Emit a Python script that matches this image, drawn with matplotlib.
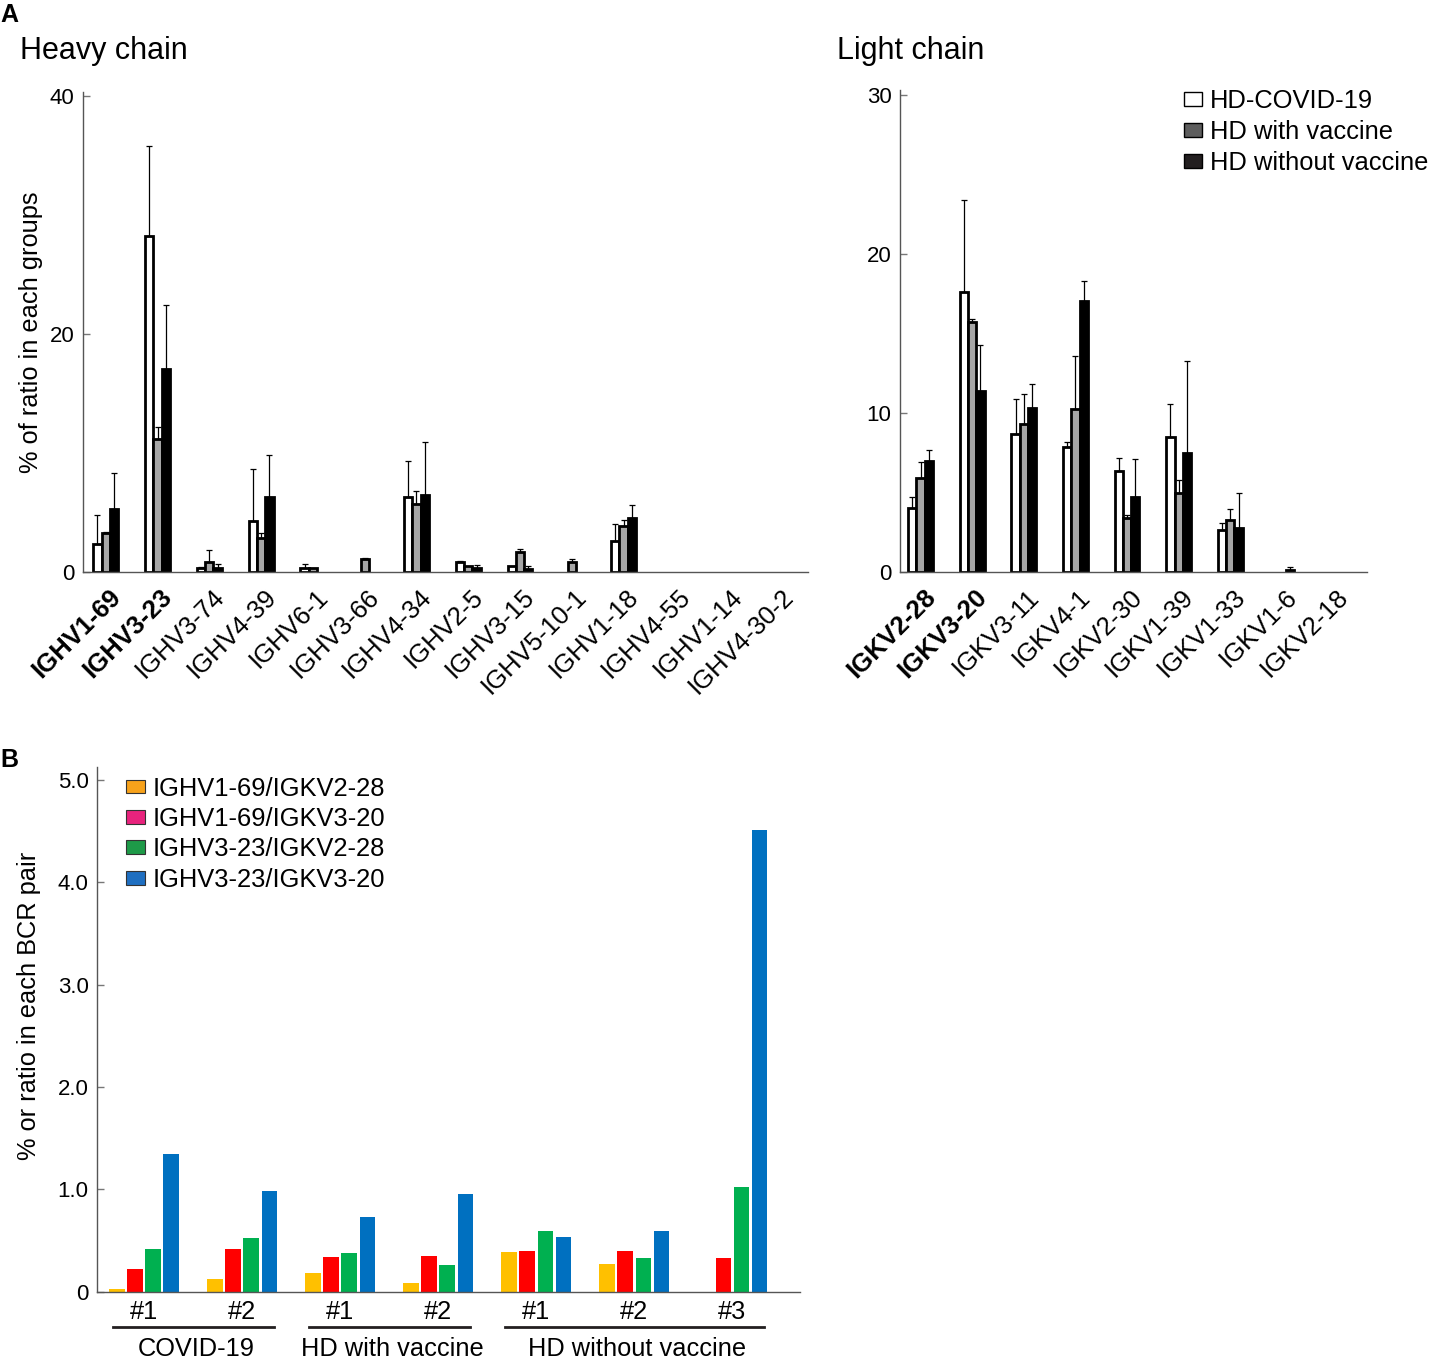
import numpy as np
import matplotlib
matplotlib.use("Agg")
import matplotlib.pyplot as plt
import matplotlib.patches as patches
from matplotlib import transforms

plt.rcParams['font.family'] = ['Liberation Sans', 'DejaVu Sans']

# --- Panel A: heavy chain usage (% of ratio in each group) ---
heavy_genes = ['IGHV1-69', 'IGHV3-23', 'IGHV3-74', 'IGHV4-39', 'IGHV6-1', 'IGHV3-66', 'IGHV4-34',
               'IGHV2-5', 'IGHV3-15', 'IGHV5-10-1', 'IGHV1-18', 'IGHV4-55', 'IGHV1-14', 'IGHV4-30-2']
heavy_covid = [2.35, 28.2, 0.35, 4.3, 0.35, 0, 6.3, 0.87, 0.53, 0, 2.65, 0, 0, 0]
heavy_covid_sd = [2.45, 7.6, 0.1, 4.4, 0.3, 0, 3.0, 0.08, 0, 0, 1.35, 0, 0, 0]
heavy_vacc = [3.3, 11.2, 0.85, 2.9, 0.3, 1.1, 5.7, 0.5, 1.7, 0.87, 3.85, 0, 0, 0]
heavy_vacc_sd = [0.05, 1.0, 1.0, 0.35, 0, 0.05, 1.1, 0, 0.2, 0.2, 0.55, 0, 0, 0]
heavy_novacc = [5.3, 17.05, 0.35, 6.3, 0, 0, 6.5, 0.3, 0.25, 0, 4.5, 0, 0, 0]
heavy_novacc_sd = [3.0, 5.35, 0.3, 3.5, 0.2, 0, 4.4, 0.3, 0.25, 0, 1.15, 0, 0, 0]

# --- Panel A: light chain usage ---
light_genes = ['IGKV2-28', 'IGKV3-20', 'IGKV3-11', 'IGKV4-1', 'IGKV2-30', 'IGKV1-39', 'IGKV1-33',
               'IGKV1-6', 'IGKV2-18']
light_covid = [4.04, 17.6, 8.7, 7.85, 6.35, 8.5, 2.67, 0, 0]
light_covid_sd = [0.7, 5.8, 2.2, 0.35, 0.8, 2.1, 0.43, 0, 0]
light_vacc = [5.9, 15.7, 9.3, 10.25, 3.43, 5.0, 3.26, 0, 0]
light_vacc_sd = [1.0, 0.2, 1.9, 3.35, 0.17, 0.8, 0.7, 0, 0]
light_novacc = [7.0, 11.4, 10.3, 17.05, 4.7, 7.5, 2.76, 0.1, 0]
light_novacc_sd = [0.7, 2.9, 1.5, 1.25, 2.4, 5.8, 2.24, 0.2, 0]

bold_genes = ['IGHV1-69', 'IGHV3-23', 'IGKV2-28', 'IGKV3-20']
group_labels = ['HD-COVID-19', 'HD with vaccine', 'HD without vaccine']

# --- Panel B: BCR pair ratios per donor ---
pair_labels = ['IGHV1-69/IGKV2-28', 'IGHV1-69/IGKV3-20', 'IGHV3-23/IGKV2-28', 'IGHV3-23/IGKV3-20']
donor_ticks = ['#1', '#2', '#1', '#2', '#1', '#2', '#3']
donor_groups = [('COVID-19', 0, 1), ('HD with vaccine', 2, 3), ('HD without vaccine', 4, 6)]
pair_v169_k228 = [0.026, 0.124, 0.186, 0.088, 0.394, 0.274, 0]
pair_v169_k320 = [0.228, 0.417, 0.342, 0.352, 0.397, 0.397, 0.332]
pair_v323_k228 = [0.417, 0.528, 0.378, 0.26, 0.593, 0.332, 1.026]
pair_v323_k320 = [1.345, 0.987, 0.73, 0.958, 0.534, 0.593, 4.51]

bar_face = ['white', '#a6a6a6', 'black']
legend_face = ['white', '#5e5e5e', '#231f20']
pair_colors = ['#ffc000', '#ff0000', '#00b050', '#0070c0']
pair_legend_colors = ['#f7a21b', '#e8237d', '#1e9a48', '#1f6fc1']

spine_col = '#555555'
fs_ytick = 16
fs_xtick = 18.5

fig = plt.figure(figsize=(14.31, 13.62), dpi=100)


def style_axes(ax):
    for side in ['top', 'right']:
        ax.spines[side].set_visible(False)
    for side in ['left', 'bottom']:
        ax.spines[side].set_color(spine_col)
        ax.spines[side].set_linewidth(1.0)
    ax.tick_params(axis='y', direction='in', length=5, width=1.0, color='#777777',
                   labelsize=fs_ytick, pad=6)
    ax.tick_params(axis='x', length=0, labelsize=fs_xtick)


def usage_panel(ax, genes, series, sds, ymax, yticks):
    x = np.arange(len(genes))
    w = 0.16
    for k, (vals, sd) in enumerate(zip(series, sds)):
        vals = np.asarray(vals, float)
        sd = np.asarray(sd, float)
        xs = x + (k - 1) * w
        keep = vals > 0
        ax.bar(xs[keep], vals[keep], width=w, color=bar_face[k], edgecolor='black',
               linewidth=2.0, zorder=2)
        ek = keep & (sd > 0)
        ax.errorbar(xs[ek], vals[ek], yerr=[np.zeros(ek.sum()), sd[ek]], fmt='none',
                    ecolor='black', elinewidth=0.9, capsize=2, capthick=0.9, zorder=3)
    style_axes(ax)
    ax.set_ylim(0, ymax)
    ax.set_yticks(yticks)
    ax.set_xticks(x + 0.05)
    ax.set_xticklabels(genes, rotation=45, ha='right', va='top', rotation_mode='anchor',
                       fontsize=fs_xtick)
    for lab in ax.get_xticklabels():
        if lab.get_text() in bold_genes:
            lab.set_fontweight('bold')
    ax.tick_params(axis='x', pad=9)


# heavy chain
ax_h = fig.add_axes([0.0580, 0.5800, 0.5066, 0.3521])
usage_panel(ax_h, heavy_genes, [heavy_covid, heavy_vacc, heavy_novacc],
            [heavy_covid_sd, heavy_vacc_sd, heavy_novacc_sd], 40.3, [0, 20, 40])
ax_h.set_xlim(-0.44, 13.56)
ax_h.set_ylabel('% of ratio in each groups', fontsize=18.3)
ax_h.yaxis.set_label_coords(-0.0555, 0.5)

# light chain
ax_l = fig.add_axes([0.6289, 0.5800, 0.3264, 0.3537])
usage_panel(ax_l, light_genes, [light_covid, light_vacc, light_novacc],
            [light_covid_sd, light_vacc_sd, light_novacc_sd], 30.3, [0, 10, 20, 30])
ax_l.set_xlim(-0.40, 8.65)

handles = [patches.Patch(facecolor=c, edgecolor='black', linewidth=1.0) for c in legend_face]
fig.legend(handles, group_labels, loc='upper left', bbox_to_anchor=(0.8275, 0.9345),
           frameon=False, fontsize=18.4, handlelength=0.7, handleheight=0.45,
           handletextpad=0.3, labelspacing=0.27, borderaxespad=0, borderpad=0)

fig.text(0.0, 0.989, 'A', fontsize=18, fontweight='bold', va='center', ha='left')
fig.text(0.014, 0.9625, 'Heavy chain', fontsize=22, va='center', ha='left')
fig.text(0.585, 0.9625, 'Light chain', fontsize=22, va='center', ha='left')

# --- Panel B ---
ax_b = fig.add_axes([0.0678, 0.0514, 0.4913, 0.3853])
xb = np.arange(len(donor_ticks))
step = 0.185
for k, vals in enumerate([pair_v169_k228, pair_v169_k320, pair_v323_k228, pair_v323_k320]):
    ax_b.bar(xb + (k - 1.5) * step, vals, width=0.16, color=pair_colors[k], linewidth=0, zorder=2)
style_axes(ax_b)
ax_b.set_xlim(-0.48, 6.69)
ax_b.set_ylim(0, 5.12)
ax_b.set_yticks([0, 1, 2, 3, 4, 5])
ax_b.set_yticklabels(['0', '1.0', '2.0', '3.0', '4.0', '5.0'])
ax_b.set_xticks(xb)
ax_b.set_xticklabels(donor_ticks, fontsize=18.3)
ax_b.tick_params(axis='x', pad=6)
ax_b.set_ylabel('% or ratio in each BCR pair', fontsize=18.3)
ax_b.yaxis.set_label_coords(-0.0795, 0.545)

trans = transforms.blended_transform_factory(ax_b.transData, fig.transFigure)
for name, i0, i1 in donor_groups:
    ax_b.plot([i0 - 0.32, i1 + 0.32], [35 / 1362, 35 / 1362], color='#231f20', lw=2.0,
              transform=trans, clip_on=False)
    ax_b.text((i0 + i1) / 2 + 0.03, 13 / 1362, name, transform=trans, ha='center', va='center',
              fontsize=18.3)

hb = [patches.Patch(facecolor=c, edgecolor='#333333', linewidth=0.8) for c in pair_legend_colors]
ax_b.legend(hb, pair_labels, loc='upper left', bbox_to_anchor=(0.041, 0.982), frameon=False,
            fontsize=18.4, handlelength=0.75, handleheight=0.45, handletextpad=0.3,
            labelspacing=0.25, borderaxespad=0, borderpad=0)

fig.text(0.0, 0.442, 'B', fontsize=18, fontweight='bold', va='center', ha='left')

fig.savefig('out.png', dpi=100)
